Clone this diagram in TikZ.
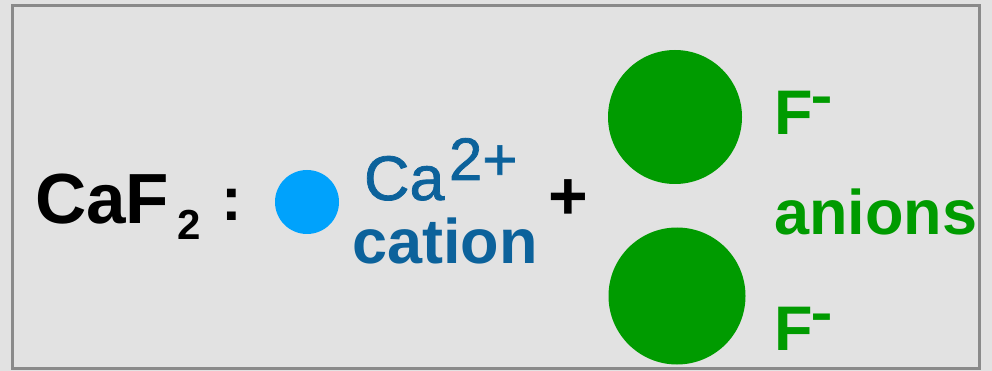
\documentclass[tikz,border=0pt]{standalone}
\usepackage{fontspec}
\setmainfont{Liberation Sans}
\newfontfamily\medfont[FakeBold=1.2]{Liberation Sans}
\definecolor{bgGray}{RGB}{226,226,226}
\definecolor{frameGray}{RGB}{138,138,138}
\definecolor{ionGreen}{RGB}{0,155,0}
\definecolor{cationBlue}{RGB}{0,162,252}
\definecolor{labelBlue}{RGB}{12,98,155}
\newcommand{\fsz}[1]{\fontsize{#1}{#1}\selectfont}
% thick superscript minus
\newcommand{\chargeminus}{\scalebox{1}[1.9]{\fsz{34}\bfseries –}}
\begin{document}
\begin{tikzpicture}[x=1pt,y=-1pt,
  lbl/.style={inner sep=0pt, outer sep=0pt, anchor=base west},
  ion/.style={circle, inner sep=0pt, outer sep=0pt, draw=none}]
  % page and frame
  \fill[bgGray] (0,0) rectangle (992,371);
  \useasboundingbox (0,0) rectangle (992,371);
  \draw[frameGray, line width=3pt] (12,6) rectangle (979,368);

  % formula
  \node[lbl] (caf) at (35,223) {\fsz{71}\bfseries CaF};
  \node[lbl] (two) at (177,240) {\fsz{42}\bfseries 2};
  \node[lbl] (colon) at (221,221) {\fsz{62}\bfseries :};

  % cation
  \node[ion, fill=cationBlue, minimum size=64pt] (ca) at (307,202) {};
  \node[lbl, text=labelBlue] (caname) at (364,200) {\fsz{63}\medfont Ca};
  \node[lbl, text=labelBlue] (charge) at (449,180) {\fsz{60}\medfont 2+};
  \node[lbl, text=labelBlue] (cation) at (352,263) {\fsz{63}\bfseries cation};

  % plus sign
  \node[inner sep=0pt, anchor=base] (plus) at (568,219) {\fsz{68}\bfseries +};

  % anions
  \node[ion, fill=ionGreen, minimum size=134pt] (f1) at (675,117) {};
  \node[ion, fill=ionGreen, minimum size=137pt] (f2) at (677,296) {};
  \node[lbl, text=ionGreen] (f1lab) at (774,135) {\fsz{63}\bfseries F};
  \node[lbl, text=ionGreen] (f1min) at (812,118) {\chargeminus};
  \node[lbl, text=ionGreen] (anions) at (774,235) {\fsz{63}\bfseries anions};
  \node[lbl, text=ionGreen] (f2lab) at (774,350) {\fsz{63}\bfseries F};
  \node[lbl, text=ionGreen] (f2min) at (812,334) {\chargeminus};
\end{tikzpicture}
\end{document}
